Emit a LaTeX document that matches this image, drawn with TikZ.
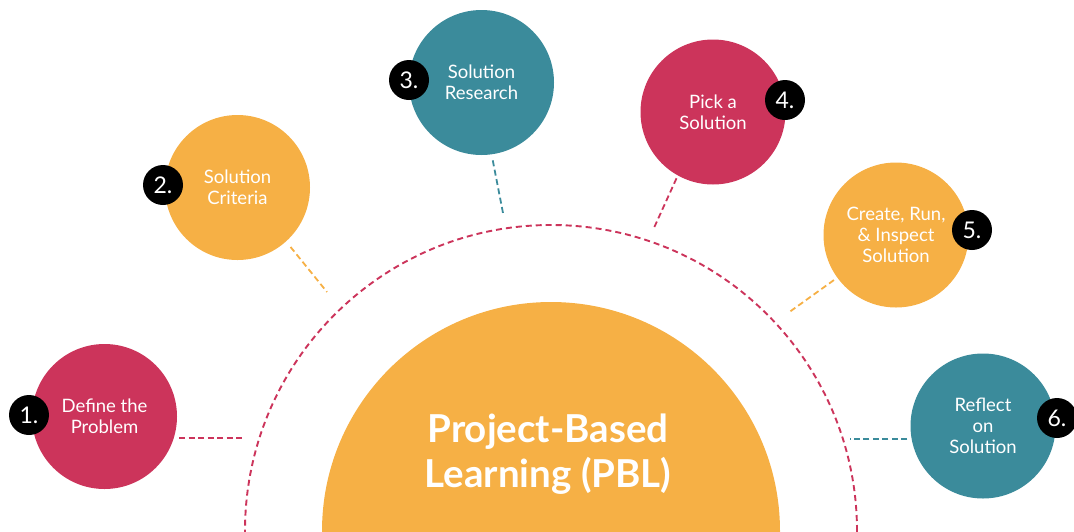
\documentclass[tikz,border=0pt]{standalone}
\usepackage{fontspec}
\setmainfont{Lato}
\begin{document}
\definecolor{pblred}{RGB}{204,52,91}
\definecolor{pblorange}{RGB}{246,176,69}
\definecolor{pblteal}{RGB}{59,139,155}
\begin{tikzpicture}[x=1pt,y=-1pt,
  stage/.style={circle,minimum size=145pt,inner sep=0pt,text=white,align=center,
    font=\fontsize{18.5}{21}\selectfont},
  badge/.style={circle,fill=black,minimum size=40pt,inner sep=0pt,text=white,
    font=\fontsize{23}{23}\selectfont},
  link/.style={line width=1.8pt,dash pattern=on 6pt off 3.5pt}
]
\useasboundingbox (0,0) rectangle (1074,531);
\clip (0,0) rectangle (1074,531);

% centre circle and the dashed ring around it
\node[circle,fill=pblorange,minimum size=458pt,inner sep=0pt] (core) at (551,531) {};
\draw[pblred,line width=1.9pt,dash pattern=on 6pt off 4pt] (core.center) circle[radius=306pt];
\node[text=white,align=center,font=\bfseries\fontsize{38.5}{45}\selectfont] (title) at (548,454)
  {Project-Based\\Learning (PBL)};

% the six stages
\node[stage,fill=pblred]    (s1) at (104.5,416.5) {Define the\\Problem};
\node[stage,fill=pblorange] (s2) at (237.5,187.5) {Solution\\Criteria};
\node[stage,fill=pblteal]   (s3) at (481.5,82.5)  {Solution\\Research};
\node[stage,fill=pblred]    (s4) at (713,112)     {Pick a\\Solution};
\node[stage,fill=pblorange] (s5) at (896,235)     {Create, Run,\\\& Inspect\\Solution};
\node[stage,fill=pblteal]   (s6) at (983,426)     {Reflect\\on\\Solution};

% numbered badges
\node[badge] (b1) at (29,415)   {1.};
\node[badge] (b2) at (163,185)  {2.};
\node[badge] (b3) at (409,80)   {3.};
\node[badge] (b4) at (785,100)  {4.};
\node[badge] (b5) at (972,230)  {5.};
\node[badge] (b6) at (1057,418) {6.};

% free ends of the connectors near the ring
\coordinate (e1) at (245,438);
\coordinate (e2) at (327,292);
\coordinate (e3) at (503,213);
\coordinate (e4) at (653,230);
\coordinate (e5) at (788,313);
\coordinate (e6) at (850,438);

% connectors from each stage towards the ring
\draw[link,pblred]    ([xshift=5pt]s1.-17) -- (s1.-17 -| e1);
\draw[link,pblorange,shorten <=7pt] (s2.-48) -- (e2);
\draw[link,pblteal,shorten <=6pt]   (s3.-82) -- (e3);
\draw[link,pblred,shorten <=3pt]    (s4.-119) -- (e4);
\draw[link,pblorange,shorten <=4pt] (s5.-144) -- (e5);
\draw[link,pblteal]   ([xshift=-4pt]s6.190) -- (s6.190 -| e6);
\end{tikzpicture}
\end{document}
